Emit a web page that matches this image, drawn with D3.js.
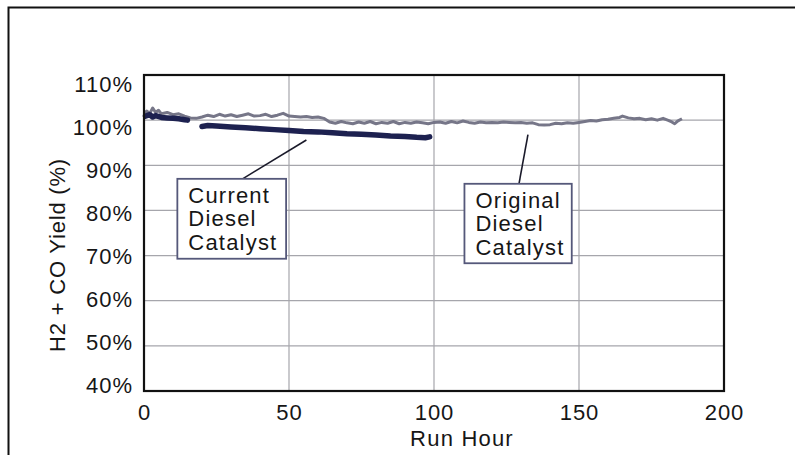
<!DOCTYPE html>
<html>
<head>
<meta charset="utf-8">
<script src="https://cdn.jsdelivr.net/npm/d3@7"></script>
<style>
  body { margin: 0; background: #fff; }
  svg { display: block; }
  text { font-family: 'Liberation Sans', Arial, sans-serif; fill: #161616; }
</style>
</head>
<body>
<svg id="chart" width="795" height="455"></svg>
<script>
'use strict'

// run hours and yields (%)
const originalHours = [0, 1, 2, 3, 4, 5, 6, 8, 10, 12, 14, 16, 18, 20, 22, 24, 26, 28, 30, 32, 34, 36, 38, 40, 42, 44, 46, 48, 50, 52, 54, 56, 58, 60, 62, 64, 66, 68, 70, 72, 74, 76, 78, 80, 82, 84, 86, 88, 90, 92, 94, 96, 98, 100, 102, 104, 106, 108, 110, 112, 114, 116, 118, 120, 122, 124, 126, 128, 130, 132, 134, 136, 138, 140, 142, 144, 146, 148, 150, 152, 154, 156, 158, 160, 162, 164, 165, 167, 169, 171, 173, 175, 177, 179, 181, 182, 183, 184, 185.5]
const originalYield = [101.6, 102.0, 101.5, 102.7, 101.7, 102.2, 101.4, 101.7, 101.2, 101.4, 100.9, 100.5, 100.4, 100.7, 101.1, 100.8, 101.3, 100.9, 101.2, 100.8, 101.1, 101.4, 100.9, 101.0, 101.3, 100.8, 101.1, 101.5, 100.9, 100.8, 100.7, 100.8, 100.6, 100.7, 100.4, 99.6, 99.3, 99.7, 99.4, 99.2, 99.6, 99.3, 99.7, 99.2, 99.5, 99.3, 99.7, 99.2, 99.5, 99.3, 99.6, 99.4, 99.2, 99.5, 99.6, 99.3, 99.7, 99.4, 99.8, 99.5, 99.3, 99.6, 99.4, 99.5, 99.4, 99.6, 99.5, 99.4, 99.5, 99.3, 99.4, 99.0, 98.9, 99.0, 99.3, 99.2, 99.4, 99.3, 99.5, 99.7, 99.9, 99.8, 100.1, 100.2, 100.4, 100.6, 100.9, 100.5, 100.3, 100.4, 100.1, 100.3, 100.0, 100.4, 99.9, 99.6, 99.2, 99.8, 100.3]

const currentHours1 = [0.5, 2, 3, 4, 6, 8, 10, 12, 14, 15]
const currentYield1 = [100.9, 101.2, 100.7, 101.0, 100.6, 100.5, 100.4, 100.3, 100.1, 100.0]
const currentHours2 = [20, 22, 25, 30, 35, 40, 45, 50, 55, 60, 65, 70, 75, 80, 85, 90, 94, 97, 98.5]
const currentYield2 = [98.6, 98.8, 98.7, 98.5, 98.3, 98.1, 97.9, 97.7, 97.5, 97.4, 97.2, 97.0, 96.9, 96.7, 96.5, 96.4, 96.2, 96.1, 96.3]

const xTicks = [0, 50, 100, 150, 200]
const yTicks = [40, 50, 60, 70, 80, 90, 100, 110]

// callouts in data units: box corners, text lines and the pointer end
const callouts = [
  { lines: ['Current', 'Diesel', 'Catalyst'], x0: 11.5, x1: 49, y0: 87, y1: 69.3, from: 34, to: [56, 95.6] },
  { lines: ['Original', 'Diesel', 'Catalyst'], x0: 110.5, x1: 147.5, y0: 85.9, y1: 68.3, from: 129.3, to: [132.4, 96.8] }
]

let svg = d3.select('#chart')
let margin = { top: 75, left: 144 }
let width = 580
let height = 316

svg.append('rect')
  .attr('x', 8.5).attr('y', 7.5)
  .attr('width', 800).attr('height', 460)
  .attr('fill', 'none').attr('stroke', '#111').attr('stroke-width', 2)

let g = svg.append('g')
  .attr('transform', 'translate(' + margin.left + ',' + margin.top + ')')

let x = d3.scaleLinear().domain([0, 200]).range([0, width])
let y = d3.scaleLinear().domain([40, 110]).range([height, 0])
// the old chart packs its value labels a little tighter than the grid
let yLabel = y.copy().range([height - 6, 9])

// grid lines
g.append('g')
  .selectAll('line.vgrid')
  .data(xTicks.slice(1, -1))
  .enter()
  .append('line')
  .attr('class', 'vgrid')
  .attr('x1', function (d) { return x(d) }).attr('x2', function (d) { return x(d) })
  .attr('y1', 0).attr('y2', height)
  .attr('stroke', '#a6a6ac').attr('stroke-width', 1.2)
g.append('g')
  .selectAll('line.hgrid')
  .data(yTicks.slice(1, -1))
  .enter()
  .append('line')
  .attr('class', 'hgrid')
  .attr('x1', 0).attr('x2', width)
  .attr('y1', function (d) { return y(d) }).attr('y2', function (d) { return y(d) })
  .attr('stroke', '#a6a6ac').attr('stroke-width', 1.2)

// axes (labels only)
let xAxis = d3.axisBottom(x).tickValues(xTicks).tickSize(0).tickPadding(13)
let yAxis = d3.axisLeft(yLabel).tickValues(yTicks).tickSize(0).tickPadding(11)
  .tickFormat(function (d) { return d + '%' })
g.append('g')
  .attr('class', 'x axis')
  .attr('transform', 'translate(0,' + height + ')')
  .call(xAxis)
g.append('g')
  .attr('class', 'y axis')
  .call(yAxis)
g.selectAll('.axis .domain').remove()
g.selectAll('.axis text')
  .attr('font-family', null)
  .style('font-size', '22px')
  .style('letter-spacing', '1px')
  .attr('fill', '#161616')
g.selectAll('.y.axis text').attr('dy', '0.36em')

// series
let line = d3.line()
  .x(function (d) { return x(d[0]) })
  .y(function (d) { return y(d[1]) })

let original = originalHours.map(function (h, i) { return [h, originalYield[i]] })
let current1 = currentHours1.map(function (h, i) { return [h, currentYield1[i]] })
let current2 = currentHours2.map(function (h, i) { return [h, currentYield2[i]] })

g.append('path')
  .datum(original)
  .attr('d', line)
  .attr('fill', 'none')
  .attr('stroke', '#767688')
  .attr('stroke-width', 3)
  .attr('stroke-linejoin', 'round')

g.selectAll('.current')
  .data([current1, current2])
  .enter()
  .append('path')
  .attr('class', 'current')
  .attr('d', line)
  .attr('fill', 'none')
  .attr('stroke', '#1d2150')
  .attr('stroke-width', 5.5)
  .attr('stroke-linecap', 'round')
  .attr('stroke-linejoin', 'round')

// plot frame
g.append('rect')
  .attr('x', 0).attr('y', 0)
  .attr('width', width).attr('height', height)
  .attr('fill', 'none')
  .attr('stroke', '#111')
  .attr('stroke-width', 2.2)

// callouts
let call = g.selectAll('.callout')
  .data(callouts)
  .enter()
  .append('g')
  .attr('class', 'callout')
call.append('line')
  .attr('x1', function (d) { return x(d.from) })
  .attr('y1', function (d) { return y(d.y0) })
  .attr('x2', function (d) { return x(d.to[0]) })
  .attr('y2', function (d) { return y(d.to[1]) })
  .attr('stroke', '#1a1a2a')
  .attr('stroke-width', 1.6)
call.append('rect')
  .attr('x', function (d) { return x(d.x0) })
  .attr('y', function (d) { return y(d.y0) })
  .attr('width', function (d) { return x(d.x1) - x(d.x0) })
  .attr('height', function (d) { return y(d.y1) - y(d.y0) })
  .attr('fill', '#fff')
  .attr('stroke', '#55587a')
  .attr('stroke-width', 1.8)
call.each(function (d) {
  let t = d3.select(this)
  d.lines.forEach(function (s, i) {
    t.append('text')
      .attr('x', x(d.x0) + 11)
      .attr('y', y(d.y0) + 24 + i * 23.5)
      .style('font-size', '22px')
      .style('letter-spacing', '1.2px')
      .text(s)
  })
})

// axis titles
svg.append('text')
  .attr('x', 462)
  .attr('y', 446)
  .attr('text-anchor', 'middle')
  .style('font-size', '22px')
  .style('letter-spacing', '1.2px')
  .text('Run Hour')
svg.append('text')
  .attr('transform', 'translate(65,255) rotate(-90)')
  .attr('text-anchor', 'middle')
  .style('font-size', '22px')
  .style('letter-spacing', '0.8px')
  .text('H2 + CO Yield (%)')
</script>
</body>
</html>
